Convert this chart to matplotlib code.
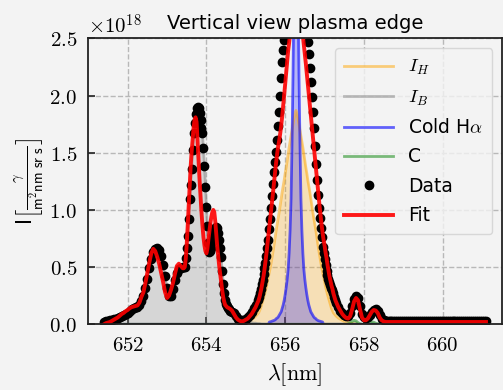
import numpy as np
import matplotlib
matplotlib.use("Agg")
import matplotlib.pyplot as plt
from matplotlib.ticker import FuncFormatter, MultipleLocator

plt.rcParams['mathtext.fontset'] = 'cm'
plt.rcParams['font.family'] = 'DejaVu Sans'
plt.rcParams['font.size'] = 13

# wavelength grid of the spectrometer [nm]; finer sampling on the steep lines
wl = np.concatenate([
    np.linspace(651.40, 653.40, 41),
    np.linspace(653.425, 654.600, 48),
    np.linspace(654.65, 655.30, 14),
    np.linspace(655.325, 657.300, 80),
    np.linspace(657.35, 661.10, 76),
])

# measured spectrum [1e18 photons / m^2 nm sr s]
data = np.array([
    0.02, 0.025, 0.03, 0.035, 0.04, 0.045, 0.05, 0.055, 0.06, 0.07,
    0.08, 0.09, 0.10, 0.115, 0.13, 0.14, 0.15, 0.155, 0.17, 0.20,
    0.25, 0.32, 0.40, 0.49, 0.57, 0.63, 0.66, 0.67, 0.65, 0.60,
    0.52, 0.42, 0.32, 0.25, 0.25, 0.31, 0.39, 0.45, 0.48, 0.49,
    0.50,
    0.50, 0.50, 0.58, 0.67, 0.77, 0.92, 1.10, 1.22, 1.36, 1.52,
    1.67, 1.76, 1.84, 1.89, 1.90, 1.89, 1.85, 1.79, 1.72, 1.67,
    1.54, 1.38, 1.20, 1.03, 0.86, 0.71, 0.63, 0.64, 0.67, 0.72,
    0.77, 0.81, 0.84, 0.85, 0.84, 0.80, 0.74, 0.67, 0.59, 0.47,
    0.35, 0.27, 0.21, 0.18, 0.16, 0.145, 0.13, 0.12,
    0.11, 0.10, 0.07, 0.05, 0.04, 0.04, 0.04, 0.045, 0.06, 0.08,
    0.11, 0.14, 0.17, 0.21,
    0.24, 0.27, 0.31, 0.35, 0.39, 0.44, 0.49, 0.54, 0.60, 0.67,
    0.74, 0.83, 0.92, 1.02, 1.12, 1.23, 1.33, 1.42, 1.51, 1.61,
    1.73, 1.86, 2.00, 2.15, 2.29, 2.40, 2.49, 2.58, 2.70, 2.82,
    2.94, 3.05, 3.15, 3.24, 3.31, 3.37, 3.42, 3.45, 3.46, 3.45,
    3.42, 3.37, 3.30, 3.21, 3.10, 2.98, 2.86, 2.74, 2.63, 2.55,
    2.47, 2.36, 2.24, 2.12, 1.99, 1.86, 1.72, 1.56, 1.40, 1.26,
    1.13, 1.02, 0.93, 0.84, 0.76, 0.68, 0.62, 0.57, 0.52, 0.47,
    0.43, 0.40, 0.37, 0.34, 0.32, 0.30, 0.27, 0.24, 0.21, 0.19,
    0.15, 0.12, 0.095, 0.08, 0.07, 0.075, 0.10, 0.16, 0.22, 0.245,
    0.23, 0.16, 0.09, 0.06, 0.055, 0.06, 0.08, 0.11, 0.125, 0.13,
    0.12, 0.08, 0.05, 0.035, 0.03, 0.03, 0.03, 0.03, 0.03, 0.03,
    0.03, 0.03, 0.03, 0.03, 0.03, 0.03, 0.03, 0.03, 0.03, 0.03,
    0.03, 0.03, 0.03, 0.03, 0.03, 0.03, 0.03, 0.03, 0.03, 0.03,
    0.03, 0.03, 0.03, 0.03, 0.03, 0.03, 0.03, 0.03, 0.03, 0.03,
    0.03, 0.03, 0.03, 0.03, 0.03, 0.03, 0.03, 0.03, 0.03, 0.03,
    0.03, 0.03, 0.03, 0.03, 0.03, 0.03,
])

fit = np.array([
    0.00, 0.01, 0.015, 0.02, 0.03, 0.04, 0.05, 0.06, 0.075, 0.09,
    0.10, 0.115, 0.125, 0.14, 0.15, 0.155, 0.16, 0.165, 0.19, 0.24,
    0.28, 0.36, 0.45, 0.54, 0.62, 0.66, 0.64, 0.59, 0.53, 0.45,
    0.37, 0.28, 0.23, 0.25, 0.30, 0.36, 0.44, 0.51, 0.53, 0.51,
    0.49,
    0.49, 0.50, 0.57, 0.70, 0.86, 1.04, 1.22, 1.38, 1.51, 1.62,
    1.72, 1.79, 1.81, 1.77, 1.60, 1.42, 1.27, 1.12, 0.98, 0.86,
    0.76, 0.69, 0.64, 0.62, 0.66, 0.74, 0.81, 0.88, 0.94, 0.98,
    1.00, 0.98, 0.90, 0.79, 0.68, 0.59, 0.51, 0.44, 0.37, 0.30,
    0.24, 0.20, 0.17, 0.16, 0.15, 0.145, 0.14, 0.135,
    0.12, 0.09, 0.06, 0.04, 0.03, 0.025, 0.03, 0.04, 0.05, 0.07,
    0.09, 0.12, 0.15, 0.19,
    0.21, 0.24, 0.28, 0.32, 0.37, 0.42, 0.48, 0.55, 0.62, 0.70,
    0.78, 0.86, 0.94, 1.02, 1.10, 1.18, 1.27, 1.35, 1.43, 1.50,
    1.56, 1.61, 1.67, 1.74, 1.82, 1.91, 2.00, 2.10, 2.20, 2.30,
    2.39, 2.46, 2.54, 2.70, 3.05, 3.70, 4.80, 6.20, 6.90, 6.20,
    4.80, 3.70, 3.05, 2.75, 2.60, 2.52, 2.44, 2.36, 2.28, 2.19,
    2.10, 2.01, 1.92, 1.83, 1.74, 1.66, 1.57, 1.48, 1.39, 1.30,
    1.21, 1.12, 1.03, 0.95, 0.87, 0.80, 0.74, 0.69, 0.63, 0.58,
    0.52, 0.47, 0.42, 0.38, 0.34, 0.31, 0.27, 0.24, 0.21, 0.19,
    0.15, 0.12, 0.09, 0.07, 0.055, 0.05, 0.07, 0.13, 0.20, 0.23,
    0.21, 0.13, 0.06, 0.035, 0.035, 0.05, 0.08, 0.11, 0.125, 0.12,
    0.10, 0.06, 0.035, 0.025, 0.02, 0.02, 0.02, 0.02, 0.02, 0.02,
    0.02, 0.02, 0.02, 0.02, 0.02, 0.02, 0.02, 0.02, 0.02, 0.02,
    0.02, 0.02, 0.02, 0.02, 0.02, 0.02, 0.02, 0.02, 0.02, 0.02,
    0.02, 0.02, 0.02, 0.02, 0.02, 0.02, 0.02, 0.02, 0.02, 0.02,
    0.02, 0.02, 0.02, 0.02, 0.02, 0.02, 0.02, 0.02, 0.02, 0.02,
    0.02, 0.02, 0.02, 0.02, 0.02, 0.02,
])

# hot H-alpha component, starts at 654.80 nm on the grid
ih_start = 654.80
ih_vals = [
    0.005, 0.008, 0.011, 0.015, 0.02, 0.025, 0.035, 0.045, 0.055, 0.07, 0.09,
    0.10, 0.12, 0.14, 0.17, 0.20, 0.23, 0.26, 0.295, 0.33, 0.375,
    0.42, 0.46, 0.50, 0.55, 0.60, 0.655, 0.71, 0.77, 0.83, 0.88,
    0.93, 0.985, 1.04, 1.10, 1.16, 1.21, 1.26, 1.32, 1.37, 1.43,
    1.49, 1.545, 1.60, 1.65, 1.70, 1.75, 1.80, 1.84, 1.87,
    1.84, 1.80, 1.75, 1.70, 1.65, 1.60, 1.545, 1.49, 1.43, 1.37,
    1.32, 1.26, 1.21, 1.16, 1.10, 1.04, 0.985, 0.93, 0.88, 0.83,
    0.77, 0.71, 0.655, 0.60, 0.55, 0.50, 0.46, 0.42, 0.375, 0.33,
    0.295, 0.26, 0.23, 0.20, 0.17, 0.14, 0.12, 0.10, 0.09, 0.08, 0.07,
    0.055, 0.045, 0.035, 0.025, 0.02, 0.015, 0.011, 0.008, 0.005, 0.003,
]

# cold H-alpha component, starts at 655.60 nm on the grid
cold_start = 655.60
cold_vals = [
    0.02, 0.022, 0.025, 0.028, 0.03, 0.035, 0.04, 0.05, 0.055, 0.065,
    0.08, 0.095, 0.11, 0.14, 0.17, 0.21, 0.26, 0.32, 0.39, 0.48,
    0.62, 0.82, 1.10, 1.60, 2.20, 3.00, 4.20, 5.00, 4.20, 3.00,
    2.20, 1.60, 1.10, 0.82, 0.62, 0.48, 0.39, 0.32, 0.26, 0.21,
    0.17, 0.14, 0.11, 0.095, 0.08, 0.065, 0.055, 0.05, 0.04, 0.035,
    0.03, 0.028, 0.025, 0.022, 0.02,
]

# carbon lines, start at 657.55 nm on the grid
c_start = 657.55
c_vals = [
    0.0, 0.005, 0.012, 0.025, 0.035, 0.03, 0.015, 0.005, 0.0, 0.002,
    0.006, 0.012, 0.02, 0.022, 0.018, 0.01, 0.004, 0.0, 0.0, 0.0, 0.0,
]

# background (I_B), own 0.05 nm grid from 651.40 to 655.40
ib_wl = np.linspace(651.40, 655.40, 81)
ib_vals = [
    0.02, 0.025, 0.03, 0.035, 0.04, 0.045, 0.05, 0.055, 0.06, 0.07,
    0.08, 0.09, 0.10, 0.115, 0.13, 0.14, 0.15, 0.155, 0.17, 0.20,
    0.25, 0.32, 0.40, 0.49, 0.57, 0.63, 0.66, 0.67, 0.65, 0.60,
    0.52, 0.42, 0.32, 0.25, 0.25, 0.31, 0.39, 0.45, 0.48, 0.49,
    0.50, 0.50, 0.67, 0.92, 1.22, 1.52, 1.76, 1.89, 1.89, 1.79,
    1.67, 1.38, 1.03, 0.71, 0.64, 0.72, 0.81, 0.85, 0.80, 0.67,
    0.47, 0.27, 0.18, 0.145, 0.12, 0.11, 0.10, 0.07, 0.05, 0.035,
    0.03, 0.025, 0.02, 0.02, 0.02, 0.015, 0.01, 0.01, 0.005, 0.005,
    0.0,
]


def on_grid(start, vals):
    full = np.zeros(len(wl))
    i0 = int(np.argmin(np.abs(wl - start)))
    full[i0:i0 + len(vals)] = vals
    return full


scale = 1e18
I_H = on_grid(ih_start, ih_vals) * scale
cold = on_grid(cold_start, cold_vals) * scale
C = on_grid(c_start, c_vals) * scale
ib_x = np.append(ib_wl, wl[-1])
I_B = np.append(ib_vals, 0.0) * scale

bg = '#f3f3f3'
fig = plt.figure(figsize=(5.03, 3.90), dpi=100, facecolor=bg)
ax = fig.add_axes([0.1755, 0.1685, 0.822, 0.733], facecolor=bg)

ax.fill_between(ib_x, I_B, color='gray', alpha=0.25, lw=0)
ax.fill_between(wl, I_H, color='orange', alpha=0.25, lw=0)
ax.fill_between(wl, cold, color='blue', alpha=0.25, lw=0)
ax.fill_between(wl, C, color='green', alpha=0.25, lw=0)

ax.plot(wl, I_H, color='orange', alpha=0.5, lw=2, label='$I_H$')
ax.plot(ib_x, I_B, color='gray', alpha=0.5, lw=2, label='$I_B$')
ax.plot(wl, cold, color='blue', alpha=0.6, lw=2, label=r'Cold H$\alpha$')
ax.plot(wl, C, color='green', alpha=0.5, lw=2, label='C')
ax.plot(wl, data * scale, 'o', color='k', ms=6, label='Data')
ax.plot(wl, fit * scale, color='red', lw=2.8, alpha=0.9, label='Fit')

ax.set_xlim(651.0, 661.5)
ax.set_ylim(0, 2.5e18)
ax.xaxis.set_major_locator(MultipleLocator(2))
ax.yaxis.set_major_locator(MultipleLocator(0.5e18))
ax.xaxis.set_major_formatter(FuncFormatter(lambda v, p: f'${v:.0f}$'))
ax.yaxis.set_major_formatter(FuncFormatter(lambda v, p: f'${v / 1e18:.1f}$'))
ax.tick_params(direction='in', length=5, width=1.2, color='#222222', pad=8,
               labelsize=15)
ax.grid(True, ls='--', color='#b8b8b8', lw=1)
ax.set_axisbelow(True)
for s in ax.spines.values():
    s.set_color('#222222')
    s.set_linewidth(1.3)

ax.text(0.0, 1.015, r'$\times10^{18}$', transform=ax.transAxes, fontsize=15)
ax.set_title('Vertical view plasma edge', fontsize=14, pad=7)
ax.set_xlabel(r'$\lambda[\mathrm{nm}]$', fontsize=16, labelpad=4)
ax.set_ylabel(r'I$\left[\frac{\gamma}{\mathsf{m^2nm\ sr\ s}}\right]$',
              fontsize=15, labelpad=2)

leg = ax.legend(loc='upper right', fontsize=13.5, handlelength=2.6,
                labelspacing=0.55, borderpad=0.5, fancybox=True,
                framealpha=0.8, facecolor=bg, edgecolor='#d0d0d0')

fig.savefig('out.png', dpi=100, facecolor=bg)
